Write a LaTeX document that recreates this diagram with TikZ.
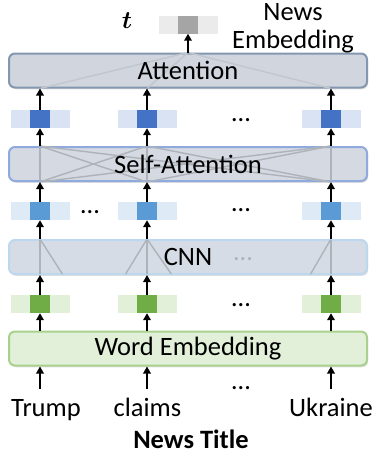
\documentclass[tikz,border=0pt]{standalone}
\usepackage{bm}
\usepackage{fontspec}
\setmainfont{Carlito}
\usetikzlibrary{arrows.meta,shadows}
\definecolor{attfill}{HTML}{D0D5DE}
\definecolor{attline}{HTML}{8497B0}
\definecolor{selffill}{HTML}{D4D9E2}
\definecolor{selfline}{HTML}{8FAADC}
\definecolor{cnnfill}{HTML}{D6DCE5}
\definecolor{cnnline}{HTML}{BDD7EE}
\definecolor{embfill}{HTML}{E2F0D9}
\definecolor{embline}{HTML}{A9D18E}
\definecolor{hdark}{HTML}{4472C4}
\definecolor{hlight}{HTML}{DAE3F3}
\definecolor{cdark}{HTML}{5B9BD5}
\definecolor{clight}{HTML}{DEEBF7}
\definecolor{edark}{HTML}{70AD47}
\definecolor{elight}{HTML}{E2F0D9}
\definecolor{tdark}{HTML}{A5A5A5}
\definecolor{tlight}{HTML}{EBEBEB}
\definecolor{mixgray}{HTML}{AEB3BA}
\definecolor{attmixgray}{HTML}{C2C7CE}

\begin{document}
\begin{tikzpicture}[x=1pt, y=-1pt,
   every node/.style={font=\fontsize{26.5}{29}\selectfont, inner sep=0pt},
   layer/.style 2 args={draw=#2, fill=#1, line width=2pt, rounded corners=6pt,
      minimum width=358pt, minimum height=34pt,
      drop shadow={shadow xshift=1.2pt, shadow yshift=-1.8pt, opacity=0.25}},
   vec/.style 2 args={fill=#1, minimum width=59pt, minimum height=18pt,
      path picture={\fill[#2] ([xshift=-10pt]path picture bounding box.south)
                    rectangle ([xshift=10pt]path picture bounding box.north);}},
   word/.style={anchor=base, text height=17pt},
   dots/.style={anchor=base},
   arr/.style={-{Triangle[length=7pt,width=7.5pt]}, line width=2.2pt},
   mix/.style={draw=mixgray, line width=1.4pt, shorten <=1pt, shorten >=1pt}]

\useasboundingbox (0,0) rectangle (373,461);

\node[layer={attfill}{attline}] (att) at (188,70.5) {};
\node[layer={selffill}{selfline}] (self) at (188,164) {};
\node[layer={cnnfill}{cnnline}] (cnn) at (188,257) {};
\node[layer={embfill}{embline}] (emb) at (188,348.5) {};

\node[vec={tlight}{tdark}] (tvec) at (188,24.5) {};
\node[anchor=base, font=\fontsize{29}{29}\selectfont] (tlabel) at (127,28.5) {$\bm{t}$};
\node[align=center, anchor=south, font=\fontsize{26.5}{28}\selectfont] (newsemb) at (293,53.5) {News\\Embedding};

\node[vec={hlight}{hdark}] (h1) at (40,119) {};
\node[vec={hlight}{hdark}] (h2) at (147,119) {};
\node[vec={hlight}{hdark}] (h3) at (331,119) {};
\node[dots] (hdots) at (241,121.5) {…};

\node[vec={clight}{cdark}] (c1) at (40,211) {};
\node[vec={clight}{cdark}] (c2) at (147,211) {};
\node[vec={clight}{cdark}] (c3) at (331,211) {};
\node[dots] (cdotsa) at (90,213.5) {…};
\node[dots] (cdotsb) at (241,211.5) {…};

\node[vec={elight}{edark}] (e1) at (40,304) {};
\node[vec={elight}{edark}] (e2) at (147,304) {};
\node[vec={elight}{edark}] (e3) at (331,304) {};
\node[dots] (edots) at (241,306.5) {…};

\node[word] (w1) at (46,416) {Trump};
\node[word] (w2) at (147.5,416) {claims};
\node[word] (w3) at (331,416) {Ukraine};
\node[dots] (wdots) at (241,389.5) {…};
\node[anchor=base, font=\fontsize{26.5}{29}\selectfont\bfseries] (title) at (191,448) {News Title};

\foreach \i in {1,2,3} {
   \draw[mix, draw=attmixgray] (h\i |- att.south) -- (att.north);
   \draw[mix] (h\i |- self.north) -- (h\i |- self.south);
   \foreach \j in {1,2,3} {
      \ifnum\i=\j\else \draw[mix] (h\i |- self.south) -- (h\j |- self.north); \fi
   }
   \draw[mix] (e\i |- cnn.north) -- (e\i |- cnn.south);
}
\draw[mix] (e1 |- cnn.north) -- ([xshift=23pt]e1 |- cnn.south);
\draw[mix] (e2 |- cnn.north) -- ([xshift=-22pt]e2 |- cnn.south);
\draw[mix] (e2 |- cnn.north) -- ([xshift=25pt]e2 |- cnn.south);
\draw[mix] (e3 |- cnn.north) -- ([xshift=-21pt]e3 |- cnn.south);
\node[dots, text=mixgray] (cnndots) at (243,260.5) {…};

\node (attlabel) at (att) {Attention};
\node (selflabel) at (self) {Self-Attention};
\node (cnnlabel) at (cnn) {CNN};
\node (emblabel) at (emb) {Word Embedding};

\foreach \i in {1,2,3} {
   \draw[arr] ([yshift=10pt]w\i.north -| e\i) -- (e\i |- emb.south);
   \draw[arr] (e\i |- emb.north) -- (e\i.south);
   \draw[arr] (e\i.north) -- (e\i |- cnn.south);
   \draw[arr] (c\i |- cnn.north) -- (c\i.south);
   \draw[arr] (c\i.north) -- (c\i |- self.south);
   \draw[arr] (h\i |- self.north) -- (h\i.south);
   \draw[arr] (h\i.north) -- (h\i |- att.south);
}
\draw[arr] (att.north) -- (tvec.south);

\end{tikzpicture}
\end{document}
